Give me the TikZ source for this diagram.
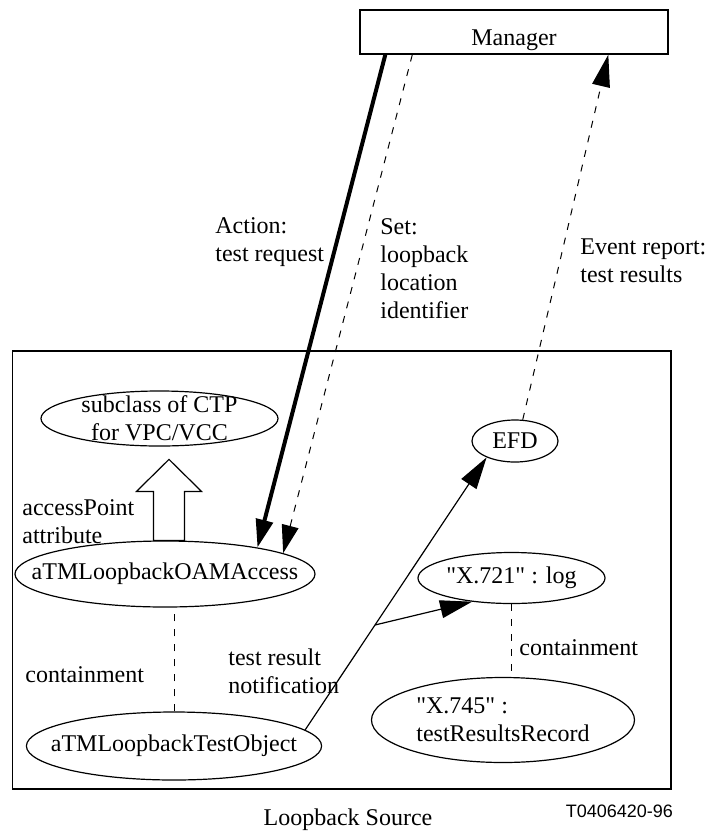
\documentclass[tikz,border=0pt]{standalone}
\usepackage{fontspec}
\setmainfont{Liberation Serif}
\newfontfamily\idfont{Liberation Sans}
\usetikzlibrary{arrows.meta,calc,shapes.geometric}
\begin{document}
\begin{tikzpicture}[x=0.5pt,y=-0.5pt,
  font=\fontsize{12}{14}\selectfont,
  obj/.style={draw,ellipse,inner xsep=-30pt,inner ysep=-12pt,line width=0.6pt,align=center},
  lbl/.style={anchor=west,align=left,inner sep=0pt},
  link/.style={line width=0.6pt},
  dotlink/.style={line width=0.5pt,dash pattern=on 3.5pt off 4pt},
  tip/.style={-{Triangle[length=16pt,width=9pt]}},
  smalltip/.style={-{Triangle[length=14pt,width=8.5pt]}}]
\useasboundingbox (0,0) rectangle (713,832);
\node[draw,line width=0.7pt,minimum width=154pt,minimum height=22pt,inner sep=0pt,text height=13.5pt,text depth=0pt] (mgr) at (514,32) {Manager};
\draw[line width=0.7pt] (12.7,351) rectangle (671,789);
\node (src) at (348,820) {Loopback Source};
\node[anchor=east,font=\idfont\fontsize{9}{10}\selectfont] (fig) at (680,811) {T0406420-96};
\node[obj,minimum width=118.5pt,minimum height=27.5pt] (sub) at (159.5,418.5) {subclass of CTP\\for VPC/VCC};
\node[obj,minimum width=150pt,minimum height=33pt] (oam) at (165,574) {aTMLoopbackOAMAccess};
\node[obj,minimum width=147.6pt,minimum height=34pt] (tobj) at (174,746) {aTMLoopbackTestObject};
\node[obj,minimum width=43pt,minimum height=21pt] (efd) at (515,441) {EFD};
\node[obj,minimum width=93.5pt,minimum height=25.5pt] (log) at (511.5,578) {\textquotedbl X.721\textquotedbl{} : log};
\node[obj,minimum width=131.5pt,minimum height=42.5pt,align=left] (rec) at (503,720) {\textquotedbl X.745\textquotedbl{} :\\testResultsRecord};
\node[lbl] (actlbl) at (215,242) {Action:\\test request};
\node[lbl] (setlbl) at (380,269) {Set:\\loopback\\location\\identifier};
\node[lbl] (evlbl) at (580,261) {Event report:\\test results};
\node[lbl] (aplbl) at (22,522) {accessPoint\\attribute};
\node[lbl] (cnlbl) at (25,675) {containment};
\node[lbl] (notlbl) at (228,671) {test result\\notification};
\node[lbl] (cn2lbl) at (519,648) {containment};
\draw[line width=2pt,smalltip] ([xshift=13pt]mgr.south west) -- (oam.16);
\draw[dotlink,smalltip] ([xshift=26.5pt]mgr.south west) -- (oam.10);
\draw[dotlink,tip] (efd.70) -- ([xshift=124.5pt]mgr.south west);
\coordinate (jn) at ($(tobj.7)!0.385!(efd.210)$);
\draw[link,tip] (tobj.7) -- (efd.210);
\draw[link,tip] (jn) -- (log.211);
\draw[dotlink] (tobj.north) -- (tobj.north |- oam.south);
\draw[dotlink] (log.south) -- (log.south |- rec.north);
\draw[link,fill=white] ([xshift=2pt]oam.north) ++(-7.75pt,0) -- ++(0,24.5pt) -- ++(-8.5pt,0) -- ++(16.25pt,16pt) -- ++(16.25pt,-16pt) -- ++(-8.5pt,0) -- ++(0,-24.5pt) -- cycle;
\end{tikzpicture}
\end{document}
